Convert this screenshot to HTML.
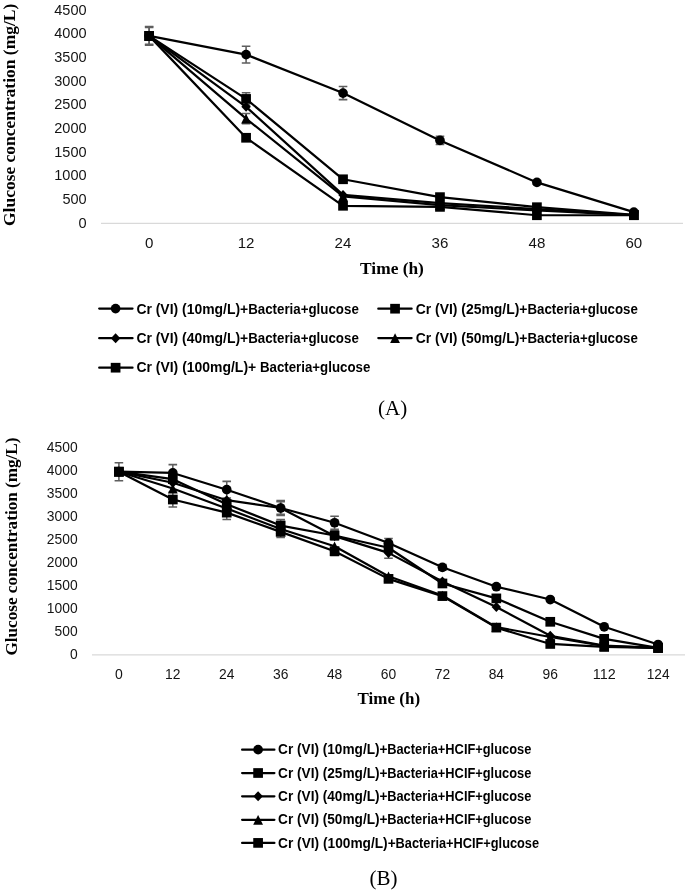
<!DOCTYPE html>
<html><head><meta charset="utf-8"><title>Glucose concentration charts</title>
<style>
html,body{margin:0;padding:0;background:#fff;}
body{width:685px;height:891px;overflow:hidden;font-family:"Liberation Sans",sans-serif;}
svg{display:block;will-change:transform;transform:translateZ(0);}
</style></head><body>
<svg width="685" height="891" viewBox="0 0 685 891">
<rect width="685" height="891" fill="#fff"/>
<path d="M101 223.3H683" stroke="#d9d9d9" stroke-width="1.3" fill="none"/>
<text x="86.6" y="227.80" text-anchor="end" font-family='"Liberation Sans", sans-serif' font-size="15.2" fill="#141414" textLength="8.1" lengthAdjust="spacingAndGlyphs">0</text>
<text x="86.6" y="204.14" text-anchor="end" font-family='"Liberation Sans", sans-serif' font-size="15.2" fill="#141414" textLength="24.2" lengthAdjust="spacingAndGlyphs">500</text>
<text x="86.6" y="180.47" text-anchor="end" font-family='"Liberation Sans", sans-serif' font-size="15.2" fill="#141414" textLength="32.3" lengthAdjust="spacingAndGlyphs">1000</text>
<text x="86.6" y="156.81" text-anchor="end" font-family='"Liberation Sans", sans-serif' font-size="15.2" fill="#141414" textLength="32.3" lengthAdjust="spacingAndGlyphs">1500</text>
<text x="86.6" y="133.14" text-anchor="end" font-family='"Liberation Sans", sans-serif' font-size="15.2" fill="#141414" textLength="32.3" lengthAdjust="spacingAndGlyphs">2000</text>
<text x="86.6" y="109.48" text-anchor="end" font-family='"Liberation Sans", sans-serif' font-size="15.2" fill="#141414" textLength="32.3" lengthAdjust="spacingAndGlyphs">2500</text>
<text x="86.6" y="85.81" text-anchor="end" font-family='"Liberation Sans", sans-serif' font-size="15.2" fill="#141414" textLength="32.3" lengthAdjust="spacingAndGlyphs">3000</text>
<text x="86.6" y="62.15" text-anchor="end" font-family='"Liberation Sans", sans-serif' font-size="15.2" fill="#141414" textLength="32.3" lengthAdjust="spacingAndGlyphs">3500</text>
<text x="86.6" y="38.48" text-anchor="end" font-family='"Liberation Sans", sans-serif' font-size="15.2" fill="#141414" textLength="32.3" lengthAdjust="spacingAndGlyphs">4000</text>
<text x="86.6" y="14.82" text-anchor="end" font-family='"Liberation Sans", sans-serif' font-size="15.2" fill="#141414" textLength="32.3" lengthAdjust="spacingAndGlyphs">4500</text>
<path d="M149.15 26.41V45.34M144.85 26.41H153.45M144.85 45.34H153.45" stroke="#5e5e5e" stroke-width="1.55" fill="none"/>
<path d="M246.09 46.19V63.04M241.79 46.19H250.39M241.79 63.04H250.39" stroke="#5e5e5e" stroke-width="1.55" fill="none"/>
<path d="M343.03 86.56V99.63M338.73 86.56H347.33M338.73 99.63H347.33" stroke="#5e5e5e" stroke-width="1.55" fill="none"/>
<path d="M439.97 136.35V144.50M435.67 136.35H444.27M435.67 144.50H444.27" stroke="#5e5e5e" stroke-width="1.55" fill="none"/>
<path d="M536.91 180.51V184.30M532.61 180.51H541.21M532.61 184.30H541.21" stroke="#5e5e5e" stroke-width="1.55" fill="none"/>
<path d="M149.15 27.35V44.39M144.85 27.35H153.45M144.85 44.39H153.45" stroke="#5e5e5e" stroke-width="1.55" fill="none"/>
<path d="M246.09 92.76V105.07M241.79 92.76H250.39M241.79 105.07H250.39" stroke="#5e5e5e" stroke-width="1.55" fill="none"/>
<path d="M343.03 177.39V181.18M338.73 177.39H347.33M338.73 181.18H347.33" stroke="#5e5e5e" stroke-width="1.55" fill="none"/>
<path d="M246.09 113.40V123.81M241.79 113.40H250.39M241.79 123.81H250.39" stroke="#5e5e5e" stroke-width="1.55" fill="none"/>
<path d="M246.09 134.93V140.61M241.79 134.93H250.39M241.79 140.61H250.39" stroke="#5e5e5e" stroke-width="1.55" fill="none"/>
<path d="M149.15 35.87L246.09 54.62L343.03 93.10L439.97 140.43L536.91 182.41L633.85 212.08" stroke="#000" stroke-width="2.2" fill="none" stroke-linejoin="round" stroke-linecap="round"/>
<g fill="#000"><circle cx="149.15" cy="35.87" r="4.85"/><circle cx="246.09" cy="54.62" r="4.85"/><circle cx="343.03" cy="93.10" r="4.85"/><circle cx="439.97" cy="140.43" r="4.85"/><circle cx="536.91" cy="182.41" r="4.85"/><circle cx="633.85" cy="212.08" r="4.85"/></g>
<path d="M149.15 35.87L246.09 98.92L343.03 179.28L439.97 197.13L536.91 207.21L633.85 214.78" stroke="#000" stroke-width="2.2" fill="none" stroke-linejoin="round" stroke-linecap="round"/>
<g fill="#000"><rect x="144.30" y="31.02" width="9.70" height="9.70"/><rect x="241.24" y="94.07" width="9.70" height="9.70"/><rect x="338.18" y="174.43" width="9.70" height="9.70"/><rect x="435.12" y="192.28" width="9.70" height="9.70"/><rect x="532.06" y="202.36" width="9.70" height="9.70"/><rect x="629.00" y="209.93" width="9.70" height="9.70"/></g>
<path d="M149.15 35.87L246.09 106.82L343.03 194.90L439.97 203.18L536.91 209.10L633.85 215.02" stroke="#000" stroke-width="2.2" fill="none" stroke-linejoin="round" stroke-linecap="round"/>
<g fill="#000"><path d="M149.15 30.87L153.90 35.87L149.15 40.87L144.40 35.87Z"/><path d="M246.09 101.82L250.84 106.82L246.09 111.82L241.34 106.82Z"/><path d="M343.03 189.90L347.78 194.90L343.03 199.90L338.28 194.90Z"/><path d="M439.97 198.18L444.72 203.18L439.97 208.18L435.22 203.18Z"/><path d="M536.91 204.10L541.66 209.10L536.91 214.10L532.16 209.10Z"/><path d="M633.85 210.02L638.60 215.02L633.85 220.02L629.10 215.02Z"/></g>
<path d="M149.15 35.87L246.09 118.61L343.03 196.32L439.97 205.08L536.91 210.52L633.85 215.25" stroke="#000" stroke-width="2.2" fill="none" stroke-linejoin="round" stroke-linecap="round"/>
<g fill="#000"><path d="M149.15 31.02L154.05 40.72L144.25 40.72Z"/><path d="M246.09 113.76L250.99 123.46L241.19 123.46Z"/><path d="M343.03 191.47L347.93 201.17L338.13 201.17Z"/><path d="M439.97 200.23L444.87 209.93L435.07 209.93Z"/><path d="M536.91 205.67L541.81 215.37L532.01 215.37Z"/><path d="M633.85 210.40L638.75 220.10L628.95 220.10Z"/></g>
<path d="M149.15 35.87L246.09 137.77L343.03 205.79L439.97 206.88L536.91 215.25L633.85 215.25" stroke="#000" stroke-width="2.2" fill="none" stroke-linejoin="round" stroke-linecap="round"/>
<g fill="#000"><rect x="144.30" y="31.02" width="9.70" height="9.70"/><rect x="241.24" y="132.92" width="9.70" height="9.70"/><rect x="338.18" y="200.94" width="9.70" height="9.70"/><rect x="435.12" y="202.03" width="9.70" height="9.70"/><rect x="532.06" y="210.40" width="9.70" height="9.70"/><rect x="629.00" y="210.40" width="9.70" height="9.70"/></g>
<text x="149.15" y="247.9" text-anchor="middle" font-family='"Liberation Sans", sans-serif' font-size="14.8" fill="#141414" textLength="8.4" lengthAdjust="spacingAndGlyphs">0</text>
<text x="246.09" y="247.9" text-anchor="middle" font-family='"Liberation Sans", sans-serif' font-size="14.8" fill="#141414" textLength="16.8" lengthAdjust="spacingAndGlyphs">12</text>
<text x="343.03" y="247.9" text-anchor="middle" font-family='"Liberation Sans", sans-serif' font-size="14.8" fill="#141414" textLength="16.8" lengthAdjust="spacingAndGlyphs">24</text>
<text x="439.97" y="247.9" text-anchor="middle" font-family='"Liberation Sans", sans-serif' font-size="14.8" fill="#141414" textLength="16.8" lengthAdjust="spacingAndGlyphs">36</text>
<text x="536.91" y="247.9" text-anchor="middle" font-family='"Liberation Sans", sans-serif' font-size="14.8" fill="#141414" textLength="16.8" lengthAdjust="spacingAndGlyphs">48</text>
<text x="633.85" y="247.9" text-anchor="middle" font-family='"Liberation Sans", sans-serif' font-size="14.8" fill="#141414" textLength="16.8" lengthAdjust="spacingAndGlyphs">60</text>
<text x="392" y="273.6" text-anchor="middle" font-family='"Liberation Serif", serif' font-weight="bold" font-size="16.6" fill="#000" textLength="63.8" lengthAdjust="spacingAndGlyphs">Time (h)</text>
<text transform="translate(14.6 226.0) rotate(-90)" font-family='"Liberation Serif", serif' font-weight="bold" font-size="16.6" fill="#000" textLength="222.3" lengthAdjust="spacingAndGlyphs">Glucose concentration (mg/L)</text>
<path d="M99.20 308.60H132.50" stroke="#000" stroke-width="2.25" stroke-linecap="round" fill="none"/>
<g fill="#000"><circle cx="115.60" cy="308.60" r="4.85"/></g>
<text x="136.40" y="313.50" font-family='"Liberation Sans", sans-serif' font-weight="bold" font-size="14.7" fill="#000" textLength="111.8" lengthAdjust="spacingAndGlyphs">Cr (VI) (10mg/L)+</text>
<text x="248.20" y="313.50" font-family='"Liberation Sans", sans-serif' font-weight="bold" font-size="14.7" fill="#000" textLength="110.6" lengthAdjust="spacingAndGlyphs">Bacteria+glucose</text>
<path d="M99.20 338.15H132.50" stroke="#000" stroke-width="2.25" stroke-linecap="round" fill="none"/>
<g fill="#000"><path d="M115.60 333.15L120.35 338.15L115.60 343.15L110.85 338.15Z"/></g>
<text x="136.40" y="342.55" font-family='"Liberation Sans", sans-serif' font-weight="bold" font-size="14.7" fill="#000" textLength="111.8" lengthAdjust="spacingAndGlyphs">Cr (VI) (40mg/L)+</text>
<text x="248.20" y="342.55" font-family='"Liberation Sans", sans-serif' font-weight="bold" font-size="14.7" fill="#000" textLength="110.6" lengthAdjust="spacingAndGlyphs">Bacteria+glucose</text>
<path d="M99.20 367.70H132.50" stroke="#000" stroke-width="2.25" stroke-linecap="round" fill="none"/>
<g fill="#000"><rect x="110.75" y="362.85" width="9.70" height="9.70"/></g>
<text x="136.40" y="372.00" font-family='"Liberation Sans", sans-serif' font-weight="bold" font-size="14.7" fill="#000" textLength="119.8" lengthAdjust="spacingAndGlyphs">Cr (VI) (100mg/L)+</text>
<text x="259.90" y="372.00" font-family='"Liberation Sans", sans-serif' font-weight="bold" font-size="14.7" fill="#000" textLength="110.4" lengthAdjust="spacingAndGlyphs">Bacteria+glucose</text>
<path d="M378.30 308.70H411.60" stroke="#000" stroke-width="2.25" stroke-linecap="round" fill="none"/>
<g fill="#000"><rect x="390.20" y="303.85" width="9.70" height="9.70"/></g>
<text x="415.70" y="313.55" font-family='"Liberation Sans", sans-serif' font-weight="bold" font-size="14.7" fill="#000" textLength="111.8" lengthAdjust="spacingAndGlyphs">Cr (VI) (25mg/L)+</text>
<text x="527.50" y="313.55" font-family='"Liberation Sans", sans-serif' font-weight="bold" font-size="14.7" fill="#000" textLength="110.4" lengthAdjust="spacingAndGlyphs">Bacteria+glucose</text>
<path d="M378.30 338.10H411.60" stroke="#000" stroke-width="2.25" stroke-linecap="round" fill="none"/>
<g fill="#000"><path d="M395.05 333.25L399.95 342.95L390.15 342.95Z"/></g>
<text x="415.70" y="342.60" font-family='"Liberation Sans", sans-serif' font-weight="bold" font-size="14.7" fill="#000" textLength="111.8" lengthAdjust="spacingAndGlyphs">Cr (VI) (50mg/L)+</text>
<text x="527.50" y="342.60" font-family='"Liberation Sans", sans-serif' font-weight="bold" font-size="14.7" fill="#000" textLength="110.4" lengthAdjust="spacingAndGlyphs">Bacteria+glucose</text>
<text x="392.7" y="414.9" text-anchor="middle" font-family='"Liberation Serif", serif' font-size="21" fill="#000">(A)</text>
<path d="M92 654.8H685" stroke="#d9d9d9" stroke-width="1.3" fill="none"/>
<text x="77.6" y="659.30" text-anchor="end" font-family='"Liberation Sans", sans-serif' font-size="14.7" fill="#141414" textLength="7.7" lengthAdjust="spacingAndGlyphs">0</text>
<text x="77.6" y="636.22" text-anchor="end" font-family='"Liberation Sans", sans-serif' font-size="14.7" fill="#141414" textLength="23.1" lengthAdjust="spacingAndGlyphs">500</text>
<text x="77.6" y="613.14" text-anchor="end" font-family='"Liberation Sans", sans-serif' font-size="14.7" fill="#141414" textLength="30.8" lengthAdjust="spacingAndGlyphs">1000</text>
<text x="77.6" y="590.06" text-anchor="end" font-family='"Liberation Sans", sans-serif' font-size="14.7" fill="#141414" textLength="30.8" lengthAdjust="spacingAndGlyphs">1500</text>
<text x="77.6" y="566.98" text-anchor="end" font-family='"Liberation Sans", sans-serif' font-size="14.7" fill="#141414" textLength="30.8" lengthAdjust="spacingAndGlyphs">2000</text>
<text x="77.6" y="543.90" text-anchor="end" font-family='"Liberation Sans", sans-serif' font-size="14.7" fill="#141414" textLength="30.8" lengthAdjust="spacingAndGlyphs">2500</text>
<text x="77.6" y="520.82" text-anchor="end" font-family='"Liberation Sans", sans-serif' font-size="14.7" fill="#141414" textLength="30.8" lengthAdjust="spacingAndGlyphs">3000</text>
<text x="77.6" y="497.74" text-anchor="end" font-family='"Liberation Sans", sans-serif' font-size="14.7" fill="#141414" textLength="30.8" lengthAdjust="spacingAndGlyphs">3500</text>
<text x="77.6" y="474.66" text-anchor="end" font-family='"Liberation Sans", sans-serif' font-size="14.7" fill="#141414" textLength="30.8" lengthAdjust="spacingAndGlyphs">4000</text>
<text x="77.6" y="451.58" text-anchor="end" font-family='"Liberation Sans", sans-serif' font-size="14.7" fill="#141414" textLength="30.8" lengthAdjust="spacingAndGlyphs">4500</text>
<path d="M118.90 462.68V480.68M114.60 462.68H123.20M114.60 480.68H123.20" stroke="#5e5e5e" stroke-width="1.55" fill="none"/>
<path d="M172.82 464.62V481.24M168.52 464.62H177.12M168.52 481.24H177.12" stroke="#5e5e5e" stroke-width="1.55" fill="none"/>
<path d="M226.74 481.38V497.99M222.44 481.38H231.04M222.44 497.99H231.04" stroke="#5e5e5e" stroke-width="1.55" fill="none"/>
<path d="M280.66 500.63V515.40M276.36 500.63H284.96M276.36 515.40H284.96" stroke="#5e5e5e" stroke-width="1.55" fill="none"/>
<path d="M334.58 516.27V529.20M330.28 516.27H338.88M330.28 529.20H338.88" stroke="#5e5e5e" stroke-width="1.55" fill="none"/>
<path d="M388.50 538.48V547.71M384.20 538.48H392.80M384.20 547.71H392.80" stroke="#5e5e5e" stroke-width="1.55" fill="none"/>
<path d="M442.42 564.56V570.10M438.12 564.56H446.72M438.12 570.10H446.72" stroke="#5e5e5e" stroke-width="1.55" fill="none"/>
<path d="M496.34 584.87V588.56M492.04 584.87H500.64M492.04 588.56H500.64" stroke="#5e5e5e" stroke-width="1.55" fill="none"/>
<path d="M550.26 598.16V600.93M545.96 598.16H554.56M545.96 600.93H554.56" stroke="#5e5e5e" stroke-width="1.55" fill="none"/>
<path d="M280.66 519.64V531.46M276.36 519.64H284.96M276.36 531.46H284.96" stroke="#5e5e5e" stroke-width="1.55" fill="none"/>
<path d="M334.58 530.86V540.09M330.28 530.86H338.88M330.28 540.09H338.88" stroke="#5e5e5e" stroke-width="1.55" fill="none"/>
<path d="M280.66 501.78V514.24M276.36 501.78H284.96M276.36 514.24H284.96" stroke="#5e5e5e" stroke-width="1.55" fill="none"/>
<path d="M388.50 547.57V558.19M384.20 547.57H392.80M384.20 558.19H392.80" stroke="#5e5e5e" stroke-width="1.55" fill="none"/>
<path d="M172.82 492.13V506.90M168.52 492.13H177.12M168.52 506.90H177.12" stroke="#5e5e5e" stroke-width="1.55" fill="none"/>
<path d="M226.74 505.70V519.55M222.44 505.70H231.04M222.44 519.55H231.04" stroke="#5e5e5e" stroke-width="1.55" fill="none"/>
<path d="M280.66 526.34V537.42M276.36 526.34H284.96M276.36 537.42H284.96" stroke="#5e5e5e" stroke-width="1.55" fill="none"/>
<path d="M334.58 547.11V555.42M330.28 547.11H338.88M330.28 555.42H338.88" stroke="#5e5e5e" stroke-width="1.55" fill="none"/>
<path d="M118.90 471.68L172.82 472.93L226.74 489.69L280.66 508.01L334.58 522.74L388.50 543.09L442.42 567.33L496.34 586.71L550.26 599.55L604.18 626.78L658.10 644.51" stroke="#000" stroke-width="2.2" fill="none" stroke-linejoin="round" stroke-linecap="round"/>
<g fill="#000"><circle cx="118.90" cy="471.68" r="4.85"/><circle cx="172.82" cy="472.93" r="4.85"/><circle cx="226.74" cy="489.69" r="4.85"/><circle cx="280.66" cy="508.01" r="4.85"/><circle cx="334.58" cy="522.74" r="4.85"/><circle cx="388.50" cy="543.09" r="4.85"/><circle cx="442.42" cy="567.33" r="4.85"/><circle cx="496.34" cy="586.71" r="4.85"/><circle cx="550.26" cy="599.55" r="4.85"/><circle cx="604.18" cy="626.78" r="4.85"/><circle cx="658.10" cy="644.51" r="4.85"/></g>
<path d="M118.90 471.68L172.82 479.21L226.74 504.23L280.66 525.55L334.58 535.48L388.50 547.71L442.42 583.48L496.34 598.39L550.26 621.80L604.18 638.87L658.10 647.88" stroke="#000" stroke-width="2.2" fill="none" stroke-linejoin="round" stroke-linecap="round"/>
<g fill="#000"><rect x="114.05" y="466.83" width="9.70" height="9.70"/><rect x="167.97" y="474.36" width="9.70" height="9.70"/><rect x="221.89" y="499.38" width="9.70" height="9.70"/><rect x="275.81" y="520.70" width="9.70" height="9.70"/><rect x="329.73" y="530.63" width="9.70" height="9.70"/><rect x="383.65" y="542.86" width="9.70" height="9.70"/><rect x="437.57" y="578.63" width="9.70" height="9.70"/><rect x="491.49" y="593.54" width="9.70" height="9.70"/><rect x="545.41" y="616.95" width="9.70" height="9.70"/><rect x="599.33" y="634.02" width="9.70" height="9.70"/><rect x="653.25" y="643.03" width="9.70" height="9.70"/></g>
<path d="M118.90 471.68L172.82 482.72L226.74 500.21L280.66 508.01L334.58 536.08L388.50 552.88L442.42 581.41L496.34 607.02L550.26 635.78L604.18 645.57L658.10 647.88" stroke="#000" stroke-width="2.2" fill="none" stroke-linejoin="round" stroke-linecap="round"/>
<g fill="#000"><path d="M118.90 466.68L123.65 471.68L118.90 476.68L114.15 471.68Z"/><path d="M172.82 477.72L177.57 482.72L172.82 487.72L168.07 482.72Z"/><path d="M226.74 495.21L231.49 500.21L226.74 505.21L221.99 500.21Z"/><path d="M280.66 503.01L285.41 508.01L280.66 513.01L275.91 508.01Z"/><path d="M334.58 531.08L339.33 536.08L334.58 541.08L329.83 536.08Z"/><path d="M388.50 547.88L393.25 552.88L388.50 557.88L383.75 552.88Z"/><path d="M442.42 576.41L447.17 581.41L442.42 586.41L437.67 581.41Z"/><path d="M496.34 602.02L501.09 607.02L496.34 612.02L491.59 607.02Z"/><path d="M550.26 630.78L555.01 635.78L550.26 640.78L545.51 635.78Z"/><path d="M604.18 640.57L608.93 645.57L604.18 650.57L599.43 645.57Z"/><path d="M658.10 642.88L662.85 647.88L658.10 652.88L653.35 647.88Z"/></g>
<path d="M118.90 471.68L172.82 488.53L226.74 508.43L280.66 529.01L334.58 546.32L388.50 576.33L442.42 595.48L496.34 627.10L550.26 637.03L604.18 646.03L658.10 647.88" stroke="#000" stroke-width="2.2" fill="none" stroke-linejoin="round" stroke-linecap="round"/>
<g fill="#000"><path d="M118.90 466.83L123.80 476.53L114.00 476.53Z"/><path d="M172.82 483.68L177.72 493.38L167.92 493.38Z"/><path d="M226.74 503.58L231.64 513.28L221.84 513.28Z"/><path d="M280.66 524.16L285.56 533.86L275.76 533.86Z"/><path d="M334.58 541.47L339.48 551.17L329.68 551.17Z"/><path d="M388.50 571.48L393.40 581.18L383.60 581.18Z"/><path d="M442.42 590.63L447.32 600.33L437.52 600.33Z"/><path d="M496.34 622.25L501.24 631.95L491.44 631.95Z"/><path d="M550.26 632.18L555.16 641.88L545.36 641.88Z"/><path d="M604.18 641.18L609.08 650.88L599.28 650.88Z"/><path d="M658.10 643.03L663.00 652.73L653.20 652.73Z"/></g>
<path d="M118.90 471.68L172.82 499.52L226.74 512.63L280.66 531.88L334.58 551.26L388.50 578.87L442.42 596.08L496.34 627.61L550.26 643.95L604.18 646.95L658.10 647.88" stroke="#000" stroke-width="2.2" fill="none" stroke-linejoin="round" stroke-linecap="round"/>
<g fill="#000"><rect x="114.05" y="466.83" width="9.70" height="9.70"/><rect x="167.97" y="494.67" width="9.70" height="9.70"/><rect x="221.89" y="507.78" width="9.70" height="9.70"/><rect x="275.81" y="527.03" width="9.70" height="9.70"/><rect x="329.73" y="546.41" width="9.70" height="9.70"/><rect x="383.65" y="574.02" width="9.70" height="9.70"/><rect x="437.57" y="591.23" width="9.70" height="9.70"/><rect x="491.49" y="622.76" width="9.70" height="9.70"/><rect x="545.41" y="639.10" width="9.70" height="9.70"/><rect x="599.33" y="642.10" width="9.70" height="9.70"/><rect x="653.25" y="643.03" width="9.70" height="9.70"/></g>
<text x="118.90" y="679.4" text-anchor="middle" font-family='"Liberation Sans", sans-serif' font-size="14.6" fill="#141414" textLength="7.8" lengthAdjust="spacingAndGlyphs">0</text>
<text x="172.82" y="679.4" text-anchor="middle" font-family='"Liberation Sans", sans-serif' font-size="14.6" fill="#141414" textLength="15.4" lengthAdjust="spacingAndGlyphs">12</text>
<text x="226.74" y="679.4" text-anchor="middle" font-family='"Liberation Sans", sans-serif' font-size="14.6" fill="#141414" textLength="15.4" lengthAdjust="spacingAndGlyphs">24</text>
<text x="280.66" y="679.4" text-anchor="middle" font-family='"Liberation Sans", sans-serif' font-size="14.6" fill="#141414" textLength="15.4" lengthAdjust="spacingAndGlyphs">36</text>
<text x="334.58" y="679.4" text-anchor="middle" font-family='"Liberation Sans", sans-serif' font-size="14.6" fill="#141414" textLength="15.4" lengthAdjust="spacingAndGlyphs">48</text>
<text x="388.50" y="679.4" text-anchor="middle" font-family='"Liberation Sans", sans-serif' font-size="14.6" fill="#141414" textLength="15.4" lengthAdjust="spacingAndGlyphs">60</text>
<text x="442.42" y="679.4" text-anchor="middle" font-family='"Liberation Sans", sans-serif' font-size="14.6" fill="#141414" textLength="15.4" lengthAdjust="spacingAndGlyphs">72</text>
<text x="496.34" y="679.4" text-anchor="middle" font-family='"Liberation Sans", sans-serif' font-size="14.6" fill="#141414" textLength="15.4" lengthAdjust="spacingAndGlyphs">84</text>
<text x="550.26" y="679.4" text-anchor="middle" font-family='"Liberation Sans", sans-serif' font-size="14.6" fill="#141414" textLength="15.4" lengthAdjust="spacingAndGlyphs">96</text>
<text x="604.18" y="679.4" text-anchor="middle" font-family='"Liberation Sans", sans-serif' font-size="14.6" fill="#141414" textLength="22.9" lengthAdjust="spacingAndGlyphs">112</text>
<text x="658.10" y="679.4" text-anchor="middle" font-family='"Liberation Sans", sans-serif' font-size="14.6" fill="#141414" textLength="22.9" lengthAdjust="spacingAndGlyphs">124</text>
<text x="388.8" y="703.8" text-anchor="middle" font-family='"Liberation Serif", serif' font-weight="bold" font-size="16.4" fill="#000" textLength="62.5" lengthAdjust="spacingAndGlyphs">Time (h)</text>
<text transform="translate(16.9 655.5) rotate(-90)" font-family='"Liberation Serif", serif' font-weight="bold" font-size="16.6" fill="#000" textLength="218.0" lengthAdjust="spacingAndGlyphs">Glucose concentration (mg/L)</text>
<path d="M242.10 749.65H274.40" stroke="#000" stroke-width="2.25" stroke-linecap="round" fill="none"/>
<g fill="#000"><circle cx="258.10" cy="749.65" r="4.85"/></g>
<text x="278.10" y="754.30" font-family='"Liberation Sans", sans-serif' font-weight="bold" font-size="14.3" fill="#000" textLength="109.4" lengthAdjust="spacingAndGlyphs">Cr (VI) (10mg/L)+</text>
<text x="387.20" y="754.30" font-family='"Liberation Sans", sans-serif' font-weight="bold" font-size="14.3" fill="#000" textLength="144.1" lengthAdjust="spacingAndGlyphs">Bacteria+HCIF+glucose</text>
<path d="M242.10 773.00H274.40" stroke="#000" stroke-width="2.25" stroke-linecap="round" fill="none"/>
<g fill="#000"><rect x="253.25" y="768.15" width="9.70" height="9.70"/></g>
<text x="278.10" y="777.65" font-family='"Liberation Sans", sans-serif' font-weight="bold" font-size="14.3" fill="#000" textLength="109.4" lengthAdjust="spacingAndGlyphs">Cr (VI) (25mg/L)+</text>
<text x="387.20" y="777.65" font-family='"Liberation Sans", sans-serif' font-weight="bold" font-size="14.3" fill="#000" textLength="144.1" lengthAdjust="spacingAndGlyphs">Bacteria+HCIF+glucose</text>
<path d="M242.10 796.30H274.40" stroke="#000" stroke-width="2.25" stroke-linecap="round" fill="none"/>
<g fill="#000"><path d="M258.10 791.30L262.85 796.30L258.10 801.30L253.35 796.30Z"/></g>
<text x="278.10" y="800.95" font-family='"Liberation Sans", sans-serif' font-weight="bold" font-size="14.3" fill="#000" textLength="109.4" lengthAdjust="spacingAndGlyphs">Cr (VI) (40mg/L)+</text>
<text x="387.20" y="800.95" font-family='"Liberation Sans", sans-serif' font-weight="bold" font-size="14.3" fill="#000" textLength="144.1" lengthAdjust="spacingAndGlyphs">Bacteria+HCIF+glucose</text>
<path d="M242.10 819.80H274.40" stroke="#000" stroke-width="2.25" stroke-linecap="round" fill="none"/>
<g fill="#000"><path d="M258.10 814.95L263.00 824.65L253.20 824.65Z"/></g>
<text x="278.10" y="824.45" font-family='"Liberation Sans", sans-serif' font-weight="bold" font-size="14.3" fill="#000" textLength="109.4" lengthAdjust="spacingAndGlyphs">Cr (VI) (50mg/L)+</text>
<text x="387.20" y="824.45" font-family='"Liberation Sans", sans-serif' font-weight="bold" font-size="14.3" fill="#000" textLength="144.1" lengthAdjust="spacingAndGlyphs">Bacteria+HCIF+glucose</text>
<path d="M242.10 842.90H274.40" stroke="#000" stroke-width="2.25" stroke-linecap="round" fill="none"/>
<g fill="#000"><rect x="253.25" y="838.05" width="9.70" height="9.70"/></g>
<text x="278.10" y="847.55" font-family='"Liberation Sans", sans-serif' font-weight="bold" font-size="14.3" fill="#000" textLength="117.6" lengthAdjust="spacingAndGlyphs">Cr (VI) (100mg/L)+</text>
<text x="395.60" y="847.55" font-family='"Liberation Sans", sans-serif' font-weight="bold" font-size="14.3" fill="#000" textLength="143.5" lengthAdjust="spacingAndGlyphs">Bacteria+HCIF+glucose</text>
<text x="383.4" y="884.7" text-anchor="middle" font-family='"Liberation Serif", serif' font-size="21" fill="#000">(B)</text>
</svg>
</body></html>
